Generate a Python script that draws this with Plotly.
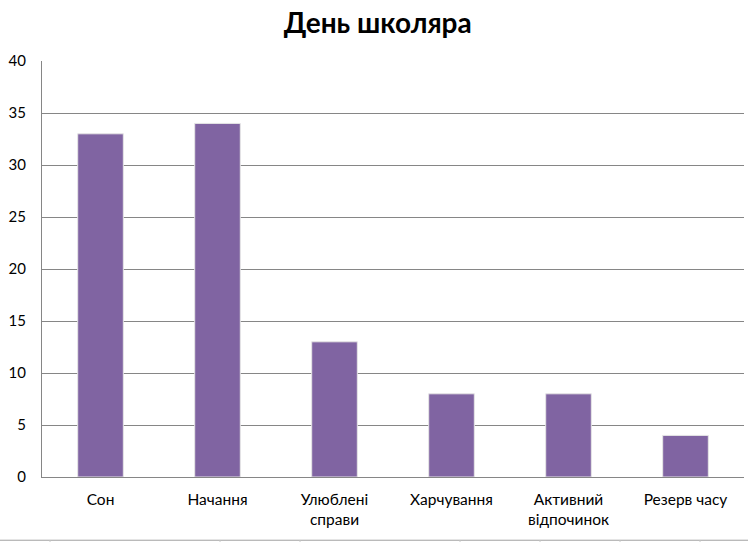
import plotly.graph_objects as go

categories = ["Сон", "Начання", "Улюблені<br>справи", "Харчування", "Активний<br>відпочинок", "Резерв часу"]
values = [33, 34, 13, 8, 8, 4]
y_ticks = [0, 5, 10, 15, 20, 25, 30, 35, 40]

fig = go.Figure()
fig.add_trace(go.Bar(
    x=categories, y=values,
    marker=dict(color="#8064A2", line=dict(color="#E6E6E6", width=1)),
    width=0.39,
))

fig.update_layout(
    width=748, height=542,
    margin=dict(l=42, r=4, t=61, b=65),
    paper_bgcolor="white", plot_bgcolor="white",
    font=dict(family="Lato, 'Open Sans', sans-serif", color="black", size=15),
    title=dict(text="<b>День школяра</b>", x=0.505, xanchor="center", y=0.958, yanchor="middle",
               font=dict(size=28, color="black", family="Lato, 'Open Sans', sans-serif")),
    showlegend=False,
    xaxis=dict(showline=True, linecolor="#868686", linewidth=1, ticks="", showgrid=False,
               tickfont=dict(size=15.5), ticklabelstandoff=8),
    yaxis=dict(range=[0, 40], tickvals=y_ticks, showline=True, linecolor="#868686", linewidth=1,
               showgrid=True, gridcolor="#868686", gridwidth=1, zeroline=False,
               tickfont=dict(size=15), ticks="", ticklabelstandoff=12),
)

# spreadsheet-style bottom border remnant
fig.add_shape(type="line", xref="paper", yref="paper", x0=-0.06, x1=1.01, y0=-0.152, y1=-0.152,
              line=dict(color="#A0A0A0", width=1))
for xp in [50, 220, 300, 460, 540, 620, 700]:
    fig.add_shape(type="line", xref="paper", yref="paper",
                  x0=(xp - 42) / 702, x1=(xp - 42) / 702, y0=-0.152, y1=-0.16,
                  line=dict(color="#C8C8C8", width=1))

fig.write_html("out.html")
